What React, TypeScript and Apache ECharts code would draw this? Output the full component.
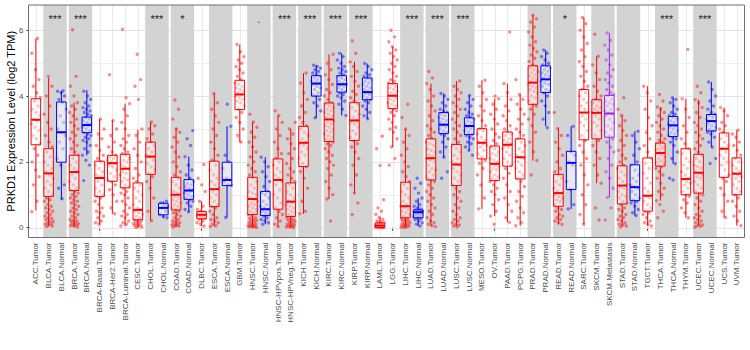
import React, { useEffect, useRef } from "react";
import * as echarts from "echarts";

const FONT = "Liberation Sans, Arial, Helvetica, sans-serif";

const categories = [
  "ACC.Tumor","BLCA.Tumor","BLCA.Normal","BRCA.Tumor","BRCA.Normal","BRCA-Basal.Tumor","BRCA-Her2.Tumor","BRCA-Luminal.Tumor",
  "CESC.Tumor","CHOL.Tumor","CHOL.Normal","COAD.Tumor","COAD.Normal","DLBC.Tumor","ESCA.Tumor","ESCA.Normal","GBM.Tumor",
  "HNSC.Tumor","HNSC.Normal","HNSC-HPVpos.Tumor","HNSC-HPVneg.Tumor","KICH.Tumor","KICH.Normal","KIRC.Tumor","KIRC.Normal",
  "KIRP.Tumor","KIRP.Normal","LAML.Tumor","LGG.Tumor","LIHC.Tumor","LIHC.Normal","LUAD.Tumor","LUAD.Normal","LUSC.Tumor",
  "LUSC.Normal","MESO.Tumor","OV.Tumor","PAAD.Tumor","PCPG.Tumor","PRAD.Tumor","PRAD.Normal","READ.Tumor","READ.Normal",
  "SARC.Tumor","SKCM.Tumor","SKCM.Metastasis","STAD.Tumor","STAD.Normal","TGCT.Tumor","THCA.Tumor","THCA.Normal","THYM.Tumor",
  "UCEC.Tumor","UCEC.Normal","UCS.Tumor","UVM.Tumor",
];

const whiskerLow = [0.52,0.05,0.85,0.03,2.2,0.1,0.42,0.05,0.0,0.21,0.3,0.02,0.48,0.05,0.03,0.31,2.6,0.0,0.1,0.03,0.0,0.42,3.34,0.87,3.41,1.05,3.31,0.0,2.45,0.02,0.05,0.05,2.14,0.05,2.35,0.57,0.35,0.16,0.06,2.04,3.08,0.1,0.57,0.1,1.35,0.92,0.05,0.37,0.05,0.82,1.94,0.3,0.05,2.45,0.31,0.06];
const quart1 = [2.52,0.95,1.99,1.13,2.89,0.95,1.41,1.21,0.24,1.62,0.39,0.54,0.86,0.27,0.64,1.28,3.59,0.40,0.37,0.56,0.34,1.86,4.00,2.62,4.12,2.65,3.89,0.0,3.62,0.30,0.30,1.45,2.86,1.28,2.83,2.09,1.43,1.87,1.48,3.75,4.11,0.65,1.16,2.67,2.70,2.75,0.72,0.82,0.50,1.87,2.77,1.00,1.05,2.94,1.53,1.00];
const median = [3.28,1.65,2.90,1.69,3.12,1.51,1.96,1.79,0.54,2.16,0.60,1.00,1.13,0.39,1.17,1.45,4.05,0.87,0.56,1.45,0.79,2.58,4.38,3.29,4.36,3.26,4.12,0.06,4.01,0.65,0.47,2.11,3.13,1.92,3.09,2.58,1.94,2.52,2.14,4.41,4.51,1.05,1.97,3.50,3.49,3.47,1.28,1.23,0.97,2.27,3.11,1.48,1.67,3.24,2.40,1.64];
const quart3 = [3.92,2.40,3.82,2.20,3.36,2.02,2.20,2.23,1.36,2.60,0.74,1.53,1.46,0.49,2.02,1.99,4.48,1.53,1.10,2.09,1.36,3.08,4.62,3.79,4.62,3.80,4.55,0.14,4.38,1.38,0.54,2.70,3.50,2.53,3.34,3.01,2.48,2.91,2.70,4.92,4.92,1.62,2.32,4.20,3.89,4.02,1.88,1.91,2.12,2.57,3.38,2.40,2.23,3.44,2.88,2.12];
const whiskerHigh = [5.75,4.55,4.16,3.80,4.18,3.31,3.26,3.77,2.98,3.21,0.80,3.02,2.16,0.80,4.08,3.08,5.57,3.21,2.14,3.41,3.00,4.70,4.94,5.27,5.30,5.04,4.99,0.31,5.50,3.00,0.90,4.38,4.08,4.46,4.02,4.48,3.92,4.38,4.05,6.46,5.40,3.01,3.08,6.39,5.21,5.92,3.41,2.93,4.30,3.67,3.95,3.92,3.89,4.43,3.65,2.96];

// shaded comparison bands (1-based category positions) and their significance marks
const bandStart = [2,4,10,12,15,18,20,22,24,26,30,32,34,40,42,45,47,50,53];
const bandEnd   = [3,5,11,13,16,19,21,23,25,27,31,33,35,41,43,46,48,51,54];
const bandLabel = ["***","***","***","*","",".","***","***","***","***","***","***","***","","*","","","***","***"];

const yTickValues = [0, 2, 4, 6];
const yMinorValues = [1, 3, 5];
const yTitle = "PRKD1 Expression Level (log2 TPM)";

// jittered sample values (log2 TPM)
const pACC_T = [0.52,0.8,1.3,1.55,1.75,2.0,2.2,2.4,2.55,2.7,2.8,2.95,3.05,3.15,3.25,3.3,3.4,3.5,3.6,3.7,3.85,3.95,4.1,4.3,4.5,4.8,5.3,5.75];
const pBLCA_T = [0.03,0.05,0.08,0.1,0.12,0.15,0.18,0.2,0.25,0.28,0.3,0.35,0.4,0.45,0.5,0.55,0.6,0.65,0.7,0.8,0.85,0.9,1.0,1.1,1.2,1.3,1.4,1.5,1.6,1.7,1.8,1.9,2.0,2.15,2.3,2.45,2.6,2.8,3.0,3.2,3.45,3.7,4.0,4.3,4.6];
const pBLCA_N = [0.88,1.2,1.3,1.9,2.1,2.4,2.6,2.8,2.9,3.0,3.2,3.4,3.6,3.8,3.9,4.0,4.1,4.15,4.16];
const pBRCA_T = [0.02,0.04,0.06,0.08,0.1,0.12,0.15,0.18,0.2,0.22,0.25,0.3,0.35,0.4,0.45,0.5,0.55,0.6,0.65,0.7,0.75,0.8,0.85,0.9,0.95,1.0,1.05,1.1,1.15,1.2,1.3,1.4,1.5,1.6,1.7,1.8,1.9,2.0,2.1,2.2,2.3,2.4,2.5,2.6,2.7,2.8,2.9,3.0,3.1,3.2,3.3,3.4,3.5,3.6,3.7,3.8,4.0,4.3,4.6,6.02];
const pBRCA_N = [1.43,1.9,2.05,2.2,2.3,2.4,2.5,2.6,2.65,2.7,2.75,2.8,2.85,2.9,2.95,3.0,3.05,3.1,3.12,3.15,3.2,3.25,3.3,3.35,3.4,3.45,3.5,3.55,3.6,3.65,3.7,3.8,3.9,4.0,4.15];
const pBRCAB_T = [0.1,0.15,0.2,0.3,0.35,0.45,0.5,0.6,0.7,0.8,0.9,0.95,1.0,1.1,1.2,1.3,1.4,1.5,1.55,1.6,1.7,1.8,1.9,2.0,2.1,2.2,2.35,2.5,2.7,2.85,3.0,3.3];
const pBRCAH_T = [0.42,0.6,0.8,1.0,1.15,1.3,1.4,1.45,1.55,1.65,1.75,1.85,1.9,1.95,2.0,2.05,2.1,2.15,2.2,2.3,2.45,2.6,2.8,3.0,3.26,4.65];
const pBRCAL_T = [0.05,0.1,0.15,0.2,0.3,0.35,0.4,0.5,0.6,0.7,0.8,0.9,1.0,1.05,1.1,1.2,1.25,1.3,1.4,1.45,1.5,1.6,1.65,1.7,1.8,1.85,1.9,2.0,2.05,2.1,2.2,2.25,2.3,2.4,2.5,2.6,2.7,2.8,3.0,3.2,3.4,3.6,3.77,3.95,6.03];
const pCESC_T = [0.0,0.02,0.04,0.06,0.08,0.1,0.12,0.15,0.18,0.2,0.22,0.25,0.3,0.35,0.4,0.45,0.5,0.55,0.6,0.7,0.8,0.9,1.0,1.1,1.2,1.3,1.4,1.5,1.6,1.8,2.0,2.2,2.4,2.6,2.8,3.0,3.9,4.3,4.5,5.27];
const pCHOL_T = [0.21,0.5,0.9,1.2,1.4,1.55,1.65,1.75,1.85,1.95,2.05,2.15,2.2,2.3,2.4,2.5,2.6,2.7,2.85,3.0,3.1,3.21];
const pCHOL_N = [0.3,0.33,0.4,0.5,0.6,0.65,0.7,0.75,0.8];
const pCOAD_T = [0.02,0.04,0.06,0.08,0.1,0.12,0.15,0.18,0.2,0.25,0.3,0.35,0.4,0.45,0.5,0.55,0.6,0.65,0.7,0.75,0.8,0.85,0.9,0.95,1.0,1.05,1.1,1.2,1.3,1.4,1.5,1.6,1.7,1.85,2.0,2.15,2.3,2.45,2.6,2.75,2.9,3.0,3.3,3.6,3.88];
const pCOAD_N = [0.48,0.55,0.65,0.75,0.8,0.85,0.9,0.95,1.0,1.05,1.1,1.12,1.15,1.2,1.25,1.3,1.35,1.4,1.5,1.6,1.75,1.9,2.16,2.5,2.7,2.95];
const pDLBC_T = [0.05,0.1,0.15,0.2,0.25,0.28,0.3,0.33,0.36,0.38,0.4,0.42,0.45,0.48,0.5,0.55,0.65,0.8,1.1,1.3,1.5,1.92];
const pESCA_T = [0.03,0.06,0.1,0.15,0.2,0.25,0.3,0.4,0.5,0.6,0.65,0.7,0.8,0.9,1.0,1.1,1.2,1.3,1.4,1.5,1.6,1.75,1.9,2.05,2.2,2.4,2.6,2.8,3.0,3.2,3.4,3.6,3.8,4.08];
const pESCA_N = [0.31,1.28,1.3,1.4,1.45,1.5,1.8,2.0,2.2,3.08,3.75];
const pGBM_T = [2.6,2.8,3.0,3.2,3.35,3.5,3.6,3.7,3.8,3.85,3.9,3.95,4.0,4.05,4.1,4.15,4.2,4.25,4.3,4.35,4.4,4.5,4.6,4.7,4.8,4.9,5.0,5.1,5.2,5.35,5.57];
const pHNSC_T = [0.0,0.01,0.02,0.03,0.04,0.05,0.07,0.09,0.1,0.12,0.15,0.18,0.2,0.22,0.25,0.28,0.3,0.35,0.4,0.45,0.5,0.55,0.6,0.65,0.7,0.75,0.8,0.85,0.9,1.0,1.05,1.1,1.2,1.3,1.4,1.5,1.6,1.7,1.8,1.9,2.0,2.15,2.3,2.45,2.6,2.75,2.9,3.05,3.21,3.45];
const pHNSC_N = [0.1,0.15,0.2,0.25,0.3,0.35,0.4,0.45,0.5,0.55,0.6,0.65,0.7,0.8,0.9,1.0,1.05,1.1,1.25,1.4,1.55,1.7,1.85,2.0,2.14];
const pHPVP_T = [0.03,0.1,0.2,0.3,0.4,0.5,0.6,0.75,0.9,1.0,1.15,1.3,1.4,1.5,1.6,1.7,1.8,1.9,2.0,2.1,2.25,2.4,2.6,2.8,3.0,3.2,3.41,3.55];
const pHPVN_T = [0.0,0.01,0.02,0.03,0.05,0.07,0.09,0.1,0.12,0.15,0.18,0.2,0.22,0.25,0.28,0.3,0.35,0.4,0.45,0.5,0.55,0.6,0.65,0.7,0.75,0.8,0.9,1.0,1.1,1.2,1.3,1.4,1.5,1.6,1.7,1.8,1.95,2.1,2.25,2.4,2.55,2.7,2.85,3.0,3.2];
const pKICH_T = [0.42,0.5,0.8,1.2,1.5,1.7,1.85,1.95,2.1,2.2,2.3,2.4,2.5,2.55,2.6,2.7,2.8,2.9,3.0,3.1,3.2,3.35,3.5,3.7,3.9,4.1,4.4,4.7];
const pKICH_N = [3.34,3.55,3.7,3.8,3.9,4.0,4.05,4.1,4.2,4.25,4.3,4.35,4.4,4.42,4.45,4.5,4.55,4.6,4.65,4.7,4.75,4.8,4.85,4.9,4.94];
const pKIRC_T = [0.2,0.87,1.0,1.2,1.4,1.6,1.8,1.9,2.0,2.1,2.2,2.3,2.4,2.5,2.55,2.6,2.65,2.7,2.75,2.8,2.85,2.9,2.95,3.0,3.05,3.1,3.15,3.2,3.25,3.3,3.35,3.4,3.45,3.5,3.55,3.6,3.65,3.7,3.75,3.8,3.9,4.0,4.1,4.2,4.35,4.5,4.65,4.8,5.0,5.27];
const pKIRC_N = [3.41,3.6,3.75,3.85,3.95,4.0,4.05,4.1,4.15,4.2,4.25,4.3,4.33,4.36,4.4,4.45,4.5,4.55,4.6,4.65,4.7,4.75,4.8,4.85,4.9,5.0,5.1,5.2,5.3];
const pKIRP_T = [0.4,0.75,1.05,1.3,1.6,1.9,2.1,2.3,2.45,2.55,2.65,2.75,2.85,2.95,3.05,3.15,3.2,3.26,3.35,3.45,3.55,3.65,3.75,3.85,3.95,4.05,4.15,4.3,4.45,4.6,4.75,4.9,5.04,5.3,5.68];
const pKIRP_N = [3.31,3.4,3.5,3.6,3.7,3.8,3.85,3.9,3.95,4.0,4.05,4.1,4.12,4.15,4.2,4.25,4.3,4.35,4.4,4.45,4.5,4.55,4.6,4.65,4.7,4.8,4.9,4.99];
const pLAML_T = [0.0,0.0,0.01,0.01,0.02,0.02,0.03,0.04,0.05,0.05,0.06,0.07,0.08,0.09,0.1,0.11,0.12,0.14,0.16,0.18,0.2,0.25,0.31,0.4,0.5,0.6,0.85,1.89,2.4,2.78];
const pLGG_T = [1.9,2.1,2.45,2.7,2.9,3.0,3.05,3.2,3.3,3.4,3.5,3.55,3.6,3.65,3.7,3.75,3.8,3.85,3.9,3.95,4.0,4.02,4.05,4.1,4.15,4.2,4.25,4.3,4.35,4.4,4.45,4.5,4.6,4.7,4.8,4.9,5.0,5.1,5.2,5.3,5.4,5.5,5.65,5.8,6.0];
const pLIHC_T = [0.0,0.01,0.02,0.03,0.05,0.07,0.09,0.1,0.12,0.15,0.18,0.2,0.22,0.25,0.28,0.3,0.35,0.4,0.45,0.5,0.55,0.6,0.65,0.7,0.8,0.9,1.0,1.1,1.2,1.3,1.4,1.55,1.7,1.85,2.0,2.2,2.4,2.6,2.8,3.0,3.35,3.75];
const pLIHC_N = [0.05,0.1,0.15,0.2,0.25,0.28,0.3,0.33,0.36,0.4,0.42,0.44,0.46,0.47,0.48,0.5,0.52,0.54,0.56,0.6,0.65,0.7,0.8,0.9,1.05,1.2,1.35,1.5];
const pLUAD_T = [0.03,0.06,0.1,0.15,0.2,0.3,0.4,0.5,0.6,0.7,0.8,0.9,1.0,1.1,1.2,1.3,1.4,1.45,1.5,1.6,1.7,1.75,1.8,1.9,2.0,2.05,2.1,2.15,2.2,2.3,2.35,2.4,2.5,2.55,2.6,2.7,2.8,2.9,3.0,3.1,3.25,3.4,3.55,3.7,3.85,4.0,4.2,4.38,4.55,4.75];
const pLUAD_N = [1.5,1.7,2.14,2.3,2.45,2.6,2.7,2.8,2.85,2.9,2.95,3.0,3.05,3.1,3.13,3.15,3.2,3.25,3.3,3.35,3.4,3.45,3.5,3.55,3.6,3.7,3.8,3.9,4.0,4.08];
const pLUSC_T = [0.02,0.05,0.08,0.1,0.15,0.2,0.25,0.3,0.4,0.5,0.6,0.7,0.8,0.9,1.0,1.1,1.2,1.3,1.4,1.5,1.6,1.7,1.8,1.9,1.95,2.0,2.1,2.2,2.3,2.4,2.5,2.6,2.7,2.8,2.9,3.0,3.1,3.2,3.3,3.4,3.5,3.6,3.7,3.8,3.9,4.0,4.1,4.2,4.3,4.46];
const pLUSC_N = [2.2,2.35,2.45,2.55,2.6,2.7,2.75,2.8,2.85,2.9,2.95,3.0,3.05,3.09,3.1,3.15,3.2,3.25,3.3,3.35,3.4,3.45,3.5,3.6,3.7,3.8,3.9,4.02];
const pMESO_T = [0.57,0.9,1.3,1.6,1.8,1.95,2.05,2.15,2.25,2.35,2.45,2.5,2.55,2.6,2.65,2.75,2.85,2.95,3.0,3.1,3.25,3.4,3.55,3.7,3.9,4.1,4.3,4.48];
const pOV_T = [0.1,0.35,0.5,0.7,0.85,1.0,1.1,1.2,1.3,1.4,1.45,1.5,1.55,1.6,1.7,1.75,1.8,1.85,1.9,1.95,2.0,2.05,2.1,2.2,2.25,2.3,2.4,2.45,2.55,2.65,2.75,2.85,3.0,3.15,3.3,3.45,3.6,3.75,3.92,4.0];
const pPAAD_T = [0.16,0.3,0.5,0.7,0.9,1.1,1.3,1.5,1.65,1.8,1.9,2.0,2.1,2.2,2.3,2.4,2.45,2.5,2.55,2.6,2.65,2.7,2.8,2.85,2.9,3.0,3.1,3.25,3.4,3.55,3.7,3.9,4.1,4.38,5.95];
const pPCPG_T = [0.06,0.15,0.3,0.45,0.6,0.8,0.95,1.1,1.25,1.4,1.5,1.6,1.7,1.8,1.9,2.0,2.1,2.15,2.2,2.3,2.4,2.5,2.6,2.7,2.8,2.9,3.0,3.15,3.3,3.45,3.6,3.75,3.9,4.05,4.5];
const pPRAD_T = [1.6,2.04,2.3,2.6,2.9,3.1,3.3,3.45,3.6,3.7,3.75,3.85,3.95,4.0,4.1,4.15,4.2,4.25,4.3,4.35,4.4,4.45,4.5,4.55,4.6,4.65,4.7,4.75,4.8,4.85,4.9,4.95,5.05,5.15,5.25,5.35,5.45,5.55,5.65,5.8,5.95,6.1,6.25,6.35,6.46];
const pPRAD_N = [3.08,3.3,3.5,3.7,3.85,4.0,4.1,4.15,4.2,4.3,4.35,4.4,4.45,4.5,4.55,4.6,4.65,4.7,4.75,4.8,4.85,4.9,4.95,5.0,5.1,5.2,5.3,5.4];
const pREAD_T = [0.1,0.15,0.2,0.25,0.3,0.35,0.4,0.5,0.55,0.6,0.7,0.8,0.85,0.9,0.95,1.0,1.05,1.1,1.2,1.3,1.4,1.5,1.6,1.7,1.8,2.0,2.2,2.4,2.6,2.8,3.01,3.5];
const pREAD_N = [0.57,0.7,1.16,1.4,1.9,2.0,2.2,2.3,2.8,3.08];
const pSARC_T = [0.1,0.4,0.7,1.0,1.3,1.6,1.9,2.1,2.3,2.5,2.65,2.8,2.95,3.1,3.2,3.3,3.4,3.5,3.6,3.7,3.8,3.9,4.0,4.1,4.2,4.3,4.45,4.6,4.75,4.9,5.05,5.2,5.4,5.6,5.8,6.0,6.2,6.39];
const pSKCM_T = [0.23,0.6,1.35,1.6,1.9,2.1,2.3,2.5,2.65,2.8,2.95,3.1,3.2,3.3,3.4,3.5,3.55,3.6,3.65,3.7,3.8,3.85,3.9,4.0,4.15,4.3,4.5,4.7,4.95,5.21,5.88];
const pSKCM_M = [0.23,0.6,0.92,1.2,1.5,1.7,1.9,2.1,2.3,2.45,2.6,2.7,2.8,2.9,3.0,3.1,3.2,3.3,3.4,3.45,3.5,3.55,3.6,3.7,3.75,3.8,3.85,3.9,4.0,4.05,4.1,4.2,4.3,4.4,4.5,4.6,4.7,4.8,4.95,5.1,5.25,5.4,5.55,5.7,5.92];
const pSTAD_T = [0.02,0.05,0.08,0.1,0.15,0.2,0.25,0.3,0.35,0.4,0.5,0.55,0.6,0.7,0.75,0.8,0.9,0.95,1.0,1.1,1.2,1.25,1.3,1.4,1.5,1.6,1.7,1.8,1.9,2.0,2.1,2.2,2.35,2.5,2.65,2.8,2.95,3.1,3.25,3.41,3.6,3.95];
const pSTAD_N = [0.37,0.45,0.55,0.65,0.75,0.8,0.85,0.9,1.0,1.1,1.2,1.25,1.3,1.4,1.5,1.6,1.75,1.9,2.0,2.2,2.4,2.6,2.8,2.93];
const pTGCT_T = [0.05,0.1,0.15,0.2,0.3,0.4,0.45,0.5,0.6,0.7,0.8,0.9,0.95,1.0,1.1,1.2,1.35,1.5,1.65,1.8,1.95,2.1,2.3,2.5,2.7,2.9,3.1,3.35,3.6,3.85,4.1,4.3];
const pTHCA_T = [0.3,0.5,0.7,0.82,1.0,1.1,1.2,1.35,1.5,1.6,1.7,1.8,1.85,1.9,1.95,2.0,2.0,2.05,2.1,2.15,2.2,2.25,2.27,2.3,2.35,2.4,2.4,2.45,2.5,2.55,2.6,2.65,2.7,2.8,2.9,3.0,3.1,3.2,3.3,3.4,3.5,3.6,3.67,3.85,4.05];
const pTHCA_N = [1.45,1.5,1.94,2.1,2.3,2.5,2.6,2.7,2.75,2.8,2.85,2.9,2.95,3.0,3.05,3.1,3.12,3.15,3.2,3.25,3.3,3.35,3.4,3.45,3.5,3.6,3.7,3.8,3.9,3.95];
const pTHYM_T = [0.3,0.45,0.6,0.75,0.85,0.95,1.0,1.1,1.2,1.3,1.35,1.4,1.45,1.5,1.6,1.7,1.8,1.9,2.0,2.1,2.25,2.4,2.55,2.7,2.9,3.1,3.35,3.6,3.92,5.42];
const pUCEC_T = [0.01,0.03,0.05,0.08,0.1,0.15,0.2,0.25,0.3,0.35,0.4,0.5,0.6,0.7,0.8,0.9,1.0,1.05,1.1,1.2,1.3,1.4,1.5,1.55,1.6,1.65,1.7,1.8,1.85,1.9,2.0,2.1,2.2,2.3,2.4,2.5,2.6,2.7,2.8,2.9,3.0,3.1,3.2,3.35,3.5,3.65,3.8,3.89,4.1,4.3];
const pUCEC_N = [1.95,2.1,2.45,2.6,2.75,2.85,2.9,2.95,3.0,3.05,3.1,3.15,3.2,3.24,3.3,3.35,3.4,3.45,3.5,3.6,3.7,3.85,4.0,4.2,4.43];
const pUCS_T = [0.31,0.5,0.8,1.0,1.2,1.4,1.5,1.6,1.75,1.9,2.0,2.1,2.2,2.3,2.4,2.5,2.6,2.7,2.8,2.9,3.0,3.1,3.2,3.4,3.55,3.65];
const pUVM_T = [0.06,0.2,0.35,0.5,0.65,0.8,0.9,1.0,1.1,1.2,1.3,1.4,1.5,1.55,1.6,1.65,1.7,1.8,1.9,2.0,2.1,2.2,2.35,2.5,2.6,2.75,2.85,2.96];

const pointSets = [
  pACC_T,pBLCA_T,pBLCA_N,pBRCA_T,pBRCA_N,pBRCAB_T,pBRCAH_T,pBRCAL_T,pCESC_T,pCHOL_T,pCHOL_N,pCOAD_T,pCOAD_N,pDLBC_T,
  pESCA_T,pESCA_N,pGBM_T,pHNSC_T,pHNSC_N,pHPVP_T,pHPVN_T,pKICH_T,pKICH_N,pKIRC_T,pKIRC_N,pKIRP_T,pKIRP_N,pLAML_T,pLGG_T,
  pLIHC_T,pLIHC_N,pLUAD_T,pLUAD_N,pLUSC_T,pLUSC_N,pMESO_T,pOV_T,pPAAD_T,pPCPG_T,pPRAD_T,pPRAD_N,pREAD_T,pREAD_N,pSARC_T,
  pSKCM_T,pSKCM_M,pSTAD_T,pSTAD_N,pTGCT_T,pTHCA_T,pTHCA_N,pTHYM_T,pUCEC_T,pUCEC_N,pUCS_T,pUVM_T,
];

// layout
const GRID_LEFT = 29.5;
const GRID_TOP = 5;
const GRID_W = 713.7;
const GRID_H = 232.5;
const PANEL_X = 28.5;
const PANEL_W = 716;

function kindOf(ci: number): "T" | "N" | "M" {
  const n = categories[ci];
  if (n.endsWith("Normal")) return "N";
  if (n.endsWith("Metastasis")) return "M";
  return "T";
}
const strokeColor = { T: "#FF0000", N: "#0000FF", M: "#A020F0" };
const pointColor = { T: "rgba(255,0,0,0.45)", N: "rgba(0,0,255,0.45)", M: "rgba(160,32,240,0.45)" };

export default function App() {
  const ref = useRef<HTMLDivElement>(null);

  useEffect(() => {
    const el = ref.current;
    if (!el) return;
    const chart = echarts.init(el, undefined, { renderer: "svg" });

    const vData = categories.map((_, i) => [i, 0]);
    const hData = [
      ...yTickValues.map((v) => [0, v, 1]),
      ...yMinorValues.map((v) => [0, v, 0]),
    ];
    const bandData = bandStart.map((s, i) => [s - 1, bandEnd[i] - 1]);
    const pointData: number[][] = [];
    pointSets.forEach((arr, ci) => arr.forEach((v, k) => pointData.push([ci, v, k])));
    const boxData = categories.map((_, i) => [i, whiskerLow[i], quart1[i], median[i], quart3[i], whiskerHigh[i]]);

    const option: any = {
      animation: false,
      grid: {
        left: GRID_LEFT,
        top: GRID_TOP,
        width: GRID_W,
        height: GRID_H,
        containLabel: false,
        outerBoundsMode: "none",
      },
      xAxis: {
        type: "category",
        data: categories,
        boundaryGap: true,
        axisLine: { show: false },
        axisTick: { show: true, alignWithLabel: true, length: 3, lineStyle: { color: "#333333", width: 1 } },
        axisLabel: { rotate: 90, interval: 0, fontSize: 8, color: "#4D4D4D", margin: 5, fontFamily: FONT },
        splitLine: { show: false },
      },
      yAxis: {
        type: "value",
        min: -0.3,
        max: 6.77,
        splitNumber: 3,
        name: yTitle,
        nameLocation: "middle",
        nameGap: 13,
        nameMoveOverlap: false,
        nameRotate: 90,
        nameTextStyle: { fontSize: 11, color: "#000000", fontFamily: FONT },
        axisLine: { show: false },
        axisTick: { show: true, length: 3, lineStyle: { color: "#333333", width: 1 } },
        axisLabel: {
          show: true,
          fontSize: 8,
          color: "#4D4D4D",
          margin: 6,
          fontFamily: FONT,
          showMinLabel: false,
          showMaxLabel: false,
          hideOverlap: false,
        },
        splitLine: { show: false },
      },
      series: [
        {
          type: "custom",
          silent: true,
          clip: false,
          data: vData,
          renderItem: (params: any, api: any) => {
            const x = Math.round(api.coord([api.value(0), 0])[0]) + 0.5;
            return {
              type: "line",
              shape: { x1: x, y1: GRID_TOP, x2: x, y2: GRID_TOP + GRID_H },
              style: { stroke: "#EBEBEB", lineWidth: 1 },
            };
          },
        },
        {
          type: "custom",
          silent: true,
          clip: false,
          data: hData,
          renderItem: (params: any, api: any) => {
            const y = Math.round(api.coord([0, api.value(1)])[1]) + 0.5;
            const major = api.value(2) === 1;
            return {
              type: "line",
              shape: { x1: PANEL_X, y1: y, x2: PANEL_X + PANEL_W, y2: y },
              style: { stroke: major ? "#E4E4E4" : "#F0F0F0", lineWidth: 1 },
            };
          },
        },
        {
          type: "custom",
          silent: true,
          clip: false,
          data: bandData,
          renderItem: (params: any, api: any) => {
            const bw = api.size([1, 0])[0];
            const x1 = api.coord([api.value(0), 0])[0] - 0.42 * bw;
            const x2 = api.coord([api.value(1), 0])[0] + 0.42 * bw;
            return {
              type: "group",
              children: [
                {
                  type: "rect",
                  shape: { x: x1, y: GRID_TOP, width: x2 - x1, height: GRID_H },
                  style: { fill: "#D3D3D3" },
                },
                {
                  type: "text",
                  x: (x1 + x2) / 2,
                  y: 19,
                  style: {
                    text: bandLabel[params.dataIndex],
                    fill: "#1A1A1A",
                    fontSize: 11,
                    fontFamily: FONT,
                    align: "center",
                    verticalAlign: "middle",
                  },
                },
              ],
            };
          },
        },
        {
          type: "custom",
          silent: true,
          clip: false,
          data: pointData,
          renderItem: (params: any, api: any) => {
            const ci = api.value(0);
            const k = api.value(2);
            const p = api.coord([ci, api.value(1)]);
            const bw = api.size([1, 0])[0];
            const f = (k * 0.6180339887 + ci * 0.29) % 1;
            const dx = (f - 0.5) * 0.72 * bw;
            return {
              type: "circle",
              shape: { cx: p[0] + dx, cy: p[1], r: 1.7 },
              style: { fill: pointColor[kindOf(ci)] },
            };
          },
        },
        {
          type: "custom",
          silent: true,
          clip: false,
          data: boxData,
          renderItem: (params: any, api: any) => {
            const ci = api.value(0);
            const x = api.coord([ci, 0])[0];
            const w = api.size([1, 0])[0] * 0.75;
            const yLow = api.coord([ci, api.value(1)])[1];
            const yQ1 = api.coord([ci, api.value(2)])[1];
            const yMed = api.coord([ci, api.value(3)])[1];
            const yQ3 = api.coord([ci, api.value(4)])[1];
            const yHigh = api.coord([ci, api.value(5)])[1];
            const c = strokeColor[kindOf(ci)];
            return {
              type: "group",
              children: [
                { type: "line", shape: { x1: x, y1: yHigh, x2: x, y2: yQ3 }, style: { stroke: c, lineWidth: 1 } },
                { type: "line", shape: { x1: x, y1: yQ1, x2: x, y2: yLow }, style: { stroke: c, lineWidth: 1 } },
                {
                  type: "rect",
                  shape: { x: x - w / 2, y: yQ3, width: w, height: Math.max(yQ1 - yQ3, 0.5) },
                  style: { fill: "rgba(255,255,255,0.5)", stroke: c, lineWidth: 1 },
                },
                { type: "line", shape: { x1: x - w / 2, y1: yMed, x2: x + w / 2, y2: yMed }, style: { stroke: c, lineWidth: 2 } },
              ],
            };
          },
        },
      ],
      graphic: [
        {
          type: "rect",
          id: "border",
          silent: true,
          z: 100,
          shape: { x: PANEL_X, y: GRID_TOP, width: PANEL_W, height: GRID_H },
          style: { fill: "none", stroke: "#6E6E6E", lineWidth: 1 },
        },
      ],
    };

    chart.setOption(option);
    return () => chart.dispose();
  }, []);

  return <div ref={ref} style={{ position: "absolute", left: 0, top: 0, width: 750, height: 350 }} />;
}
